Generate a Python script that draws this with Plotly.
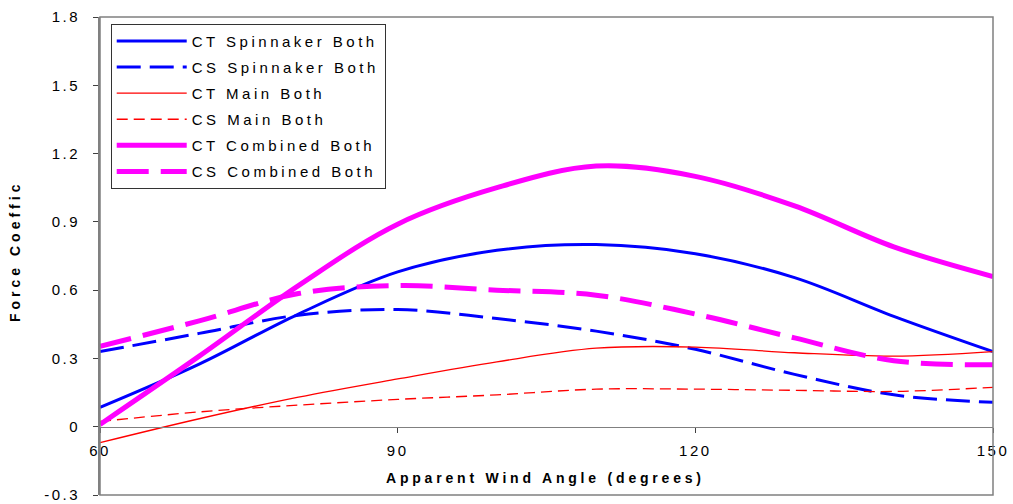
import plotly.graph_objects as go

angles = [60, 70, 80, 90, 100, 110, 120, 130, 140, 150]
ct_spinnaker = [0.085, 0.275, 0.495, 0.68, 0.775, 0.80, 0.76, 0.655, 0.485, 0.33]
cs_spinnaker = [0.33, 0.41, 0.49, 0.515, 0.475, 0.42, 0.34, 0.23, 0.14, 0.107]
ct_main = [-0.07, 0.035, 0.13, 0.21, 0.285, 0.345, 0.35, 0.325, 0.31, 0.33]
cs_main = [0.023, 0.065, 0.095, 0.12, 0.14, 0.165, 0.165, 0.16, 0.155, 0.173]
ct_combined = [0.01, 0.31, 0.62, 0.89, 1.05, 1.145, 1.10, 0.97, 0.79, 0.66]
cs_combined = [0.353, 0.465, 0.585, 0.62, 0.60, 0.578, 0.495, 0.39, 0.29, 0.272]

series_names = ["CT Spinnaker Both", "CS Spinnaker Both", "CT Main Both",
                "CS Main Both", "CT Combined Both", "CS Combined Both"]
y_tick_vals = [-0.3, 0, 0.3, 0.6, 0.9, 1.2, 1.5, 1.8]
y_tick_text = ["-0.3", "0", "0.3", "0.6", "0.9", "1.2", "1.5", "1.8"]
x_tick_vals = [60, 90, 120, 150]
x_tick_text = ["60", "90", "120", "150"]
x_title = "Apparent Wind Angle (degrees)"
y_title = "Force Coeffic"

FONT = "Liberation Sans, Arial, sans-serif"


def spaced(t, px):
    return '<span style="letter-spacing:%spx">%s</span>' % (px, t)


styles = [
    dict(color="#0000FF", width=3, dash="solid"),
    dict(color="#0000FF", width=3, dash="24px,9px"),
    dict(color="#FF0000", width=1.3, dash="solid"),
    dict(color="#FF0000", width=1.3, dash="11px,6px"),
    dict(color="#FF00FF", width=5, dash="solid"),
    dict(color="#FF00FF", width=5, dash="32px,12px"),
]
data = [ct_spinnaker, cs_spinnaker, ct_main, cs_main, ct_combined, cs_combined]

fig = go.Figure()
for i, (name, ys, st) in enumerate(zip(series_names, data, styles)):
    fig.add_trace(go.Scatter(
        x=angles, y=ys, mode="lines", name=spaced(name, 3.5),
        line=dict(color=st["color"], width=st["width"], dash=st["dash"],
                  shape="spline", smoothing=1.0),
        legendgroup="g%d" % i,
    ))

y0 = -0.3
y1 = 1.8
fig.update_layout(
    width=1013, height=504,
    margin=dict(l=100, r=20, t=17, b=9),
    paper_bgcolor="white", plot_bgcolor="white",
    font=dict(family=FONT, size=15, color="black"),
    showlegend=True,
    legend=dict(
        x=0.012, y=0.986, xanchor="left", yanchor="top",
        bgcolor="white", bordercolor="#333333", borderwidth=1,
        font=dict(family=FONT, size=15, color="black"),
        itemwidth=70, tracegroupgap=3.6, traceorder="grouped",
    ),
    xaxis=dict(
        range=[60, 150], anchor="free", position=(0 - y0) / (y1 - y0),
        showline=True, linecolor="#808080", linewidth=1.3,
        ticks="outside", ticklen=5, tickcolor="#404040", tickwidth=1,
        ticklabelstandoff=5,
        tickvals=x_tick_vals, ticktext=[spaced(t, 2.5) for t in x_tick_text],
        tickfont=dict(family=FONT, size=15, color="black"),
        showgrid=False, zeroline=False, automargin=False,
    ),
    yaxis=dict(
        range=[y0, y1], domain=[0, 1],
        showline=True, linecolor="#808080", linewidth=2,
        ticks="outside", ticklen=5, tickcolor="#404040", tickwidth=1,
        ticklabelstandoff=10,
        tickvals=y_tick_vals,
        ticktext=[spaced(t, 2.5) for t in y_tick_text],
        tickfont=dict(family=FONT, size=15, color="black"),
        showgrid=False, zeroline=False, automargin=False,
    ),
    shapes=[dict(type="rect", xref="paper", yref="paper", x0=0, x1=1, y0=0, y1=1,
                 line=dict(color="#808080", width=1.5), layer="above")],
    annotations=[
        dict(text="<b>" + spaced(x_title, 3.8) + "</b>", xref="paper", yref="paper",
             x=(545 - 100) / 893, y=(495 - 478) / 478, xanchor="center", yanchor="middle",
             showarrow=False, font=dict(family=FONT, size=14, color="black")),
        dict(text="<b>" + spaced(y_title, 4) + "</b>", xref="paper", yref="paper",
             x=(15 - 100) / 893, y=(495 - 252) / 478, xanchor="center", yanchor="middle",
             textangle=-90, showarrow=False, font=dict(family=FONT, size=14, color="black")),
    ],
)

fig.write_html("out.html")
